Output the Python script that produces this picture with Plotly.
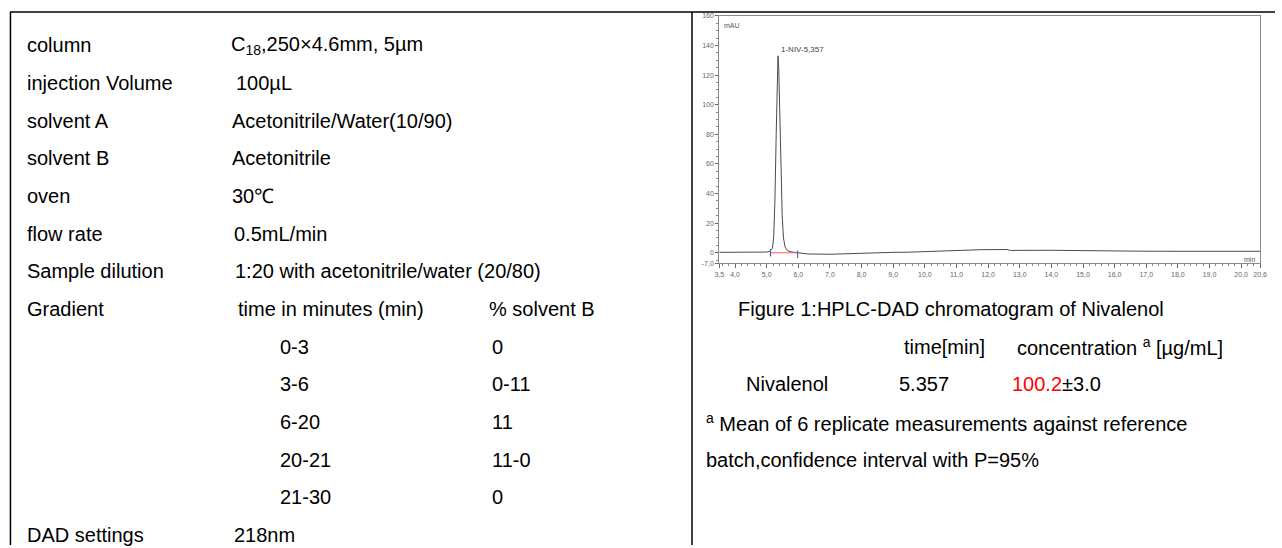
import plotly.graph_objects as go

W, H = 1282, 548

# ---------------- data ----------------
# chromatogram
time_min = [3.5, 4.5, 5.0, 5.1, 5.18, 5.22, 5.26, 5.30, 5.33, 5.357, 5.38, 5.41,
            5.45, 5.49, 5.53, 5.58, 5.65, 5.8, 6.0, 6.3, 7.0, 7.6, 8.2, 8.7, 9.0,
            9.5, 10.0, 10.6, 11.2, 11.8, 12.6, 12.7, 14.0, 15.5, 16.6, 16.7, 18.0, 20.6]
signal_mAU = [0.3, 0.4, 0.5, 1.0, 3.0, 10.0, 35.0, 80.0, 120.0, 133.0, 125.0, 95.0,
              55.0, 25.0, 10.0, 4.0, 1.5, 0.5, 0.0, -0.8, -1.0, -0.6, -0.2, 0.5, 0.3,
              0.4, 0.8, 1.1, 1.6, 2.1, 2.2, 1.6, 1.7, 1.6, 1.6, 1.1, 1.0, 1.0]
peak_label = "1-NIV-5,357"
peak_time = 5.357
peak_height = 133.0
peak_start = 5.12
peak_end = 5.98

x_tickvals = [3.5, 4, 5, 6, 7, 8, 9, 10, 11, 12, 13, 14, 15, 16, 17, 18, 19, 20, 20.6]
x_ticktext = ["3,5", "4,0", "5,0", "6,0", "7,0", "8,0", "9,0", "10,0", "11,0", "12,0",
              "13,0", "14,0", "15,0", "16,0", "17,0", "18,0", "19,0", "20,0", "20,6"]
y_tickvals = [-7, 0, 20, 40, 60, 80, 100, 120, 140, 160]
y_ticktext = ["-7,0", "0", "20", "40", "60", "80", "100", "120", "140", "160"]

# method table
param_labels = ["column", "injection Volume", "solvent A", "solvent B", "oven",
                "flow rate", "Sample dilution", "Gradient"]
param_values = ["C<sub>18</sub>,250×4.6mm, 5µm", "100µL", "Acetonitrile/Water(10/90)",
                "Acetonitrile", "30℃", "0.5mL/min", "1:20 with acetonitrile/water (20/80)",
                "time in minutes (min)"]
gradient_header_B = "% solvent B"
gradient_time = ["0-3", "3-6", "6-20", "20-21", "21-30"]
gradient_B = ["0", "0-11", "11", "11-0", "0"]
dad_label = "DAD settings"
dad_value = "218nm"

# results
fig_caption = "Figure 1:HPLC-DAD chromatogram of Nivalenol"
res_header = ["time[min]", "concentration <sup>a</sup> [µg/mL]"]
res_compound = "Nivalenol"
res_time = "5.357"
res_conc = "100.2"
res_ci = "±3.0"
footnote = ["<sup>a</sup> Mean of 6 replicate measurements against reference",
            "batch,confidence interval with P=95%"]

# ---------------- layout helpers ----------------
FONT = "Liberation Sans, Arial, sans-serif"
FS = 20


def px(x):
    return x / W


def py(y):
    return 1 - y / H


row_y0, row_step = 42, 38.15


def ry(i):
    return row_y0 + i * row_step


fig = go.Figure()

# chromatogram trace
fig.add_trace(go.Scatter(x=time_min, y=signal_mAU, mode="lines",
                         line=dict(color="#4a4a4a", width=1), hoverinfo="skip"))
# integration baseline and delimiters
fig.add_trace(go.Scatter(x=[peak_start, peak_end], y=[0, 0], mode="lines",
                         line=dict(color="#ff5a5a", width=1)))
fig.add_trace(go.Scatter(x=[peak_start, peak_start, None, peak_end, peak_end],
                         y=[-2.5, 2.5, None, -3.5, 1.5], mode="lines",
                         line=dict(color="#3050c0", width=1)))

x0p, x1p = 721, 1267
y0p, y1p = 12, 262.5
fig.update_layout(
    width=W, height=H, autosize=False,
    margin=dict(l=0, r=0, t=0, b=0),
    paper_bgcolor="white", plot_bgcolor="white",
    showlegend=False,
    font=dict(family=FONT, size=FS, color="black"),
    xaxis=dict(domain=[px(x0p), px(x1p)], range=[3.5, 20.6], tickvals=x_tickvals,
               ticktext=x_ticktext, showgrid=False, zeroline=False, showline=True,
               linecolor="#8a8a8a", linewidth=1, mirror=True, ticks="outside",
               ticklen=4, tickcolor="#666", tickfont=dict(size=7, color="#666"),
               minor=dict(dtick=0.2, tick0=3.6, ticklen=2, ticks="outside", tickcolor="#888")),
    yaxis=dict(domain=[py(y1p), py(y0p)], range=[-7, 160], tickvals=y_tickvals,
               ticktext=y_ticktext, showgrid=False, zeroline=False, showline=True,
               linecolor="#8a8a8a", linewidth=1, mirror=True, ticks="outside",
               ticklen=3, tickcolor="#666", tickfont=dict(size=7, color="#666"),
               minor=dict(dtick=5, ticklen=2, ticks="outside", tickcolor="#888")),
)

# chart labels
fig.add_annotation(x=3.6, y=157, text="mAU", showarrow=False, xanchor="left",
                   yanchor="top", font=dict(size=7, color="#555"))
fig.add_annotation(x=20.5, y=-1, text="min", showarrow=False, xanchor="right",
                   yanchor="top", font=dict(size=7, color="#555"))
fig.add_annotation(x=peak_time, y=peak_height, text=peak_label, showarrow=False,
                   xanchor="left", yanchor="bottom", xshift=1,
                   font=dict(size=8, color="#444"))

# page frame lines
line_style = dict(color="black", width=1.5)
fig.add_shape(type="line", xref="paper", yref="paper", x0=px(5), x1=1, y0=py(8), y1=py(8), line=line_style)
fig.add_shape(type="line", xref="paper", yref="paper", x0=px(5.5), x1=px(5.5), y0=py(8), y1=0, line=line_style)
fig.add_shape(type="line", xref="paper", yref="paper", x0=px(693.5), x1=px(693.5), y0=py(8), y1=0, line=line_style)


def txt(x, y, s):
    fig.add_annotation(x=px(x), y=py(y), xref="paper", yref="paper", text=s,
                       showarrow=False, xanchor="left", yanchor="middle",
                       font=dict(family=FONT, size=FS, color="black"))


# left table
value_x = [226, 231, 227, 227, 227, 229, 230, 233]
for i, (lab, val) in enumerate(zip(param_labels, param_values)):
    txt(20, ry(i), lab)
    txt(value_x[i], ry(i), val)
txt(487, ry(7), gradient_header_B)
for j, (t, b) in enumerate(zip(gradient_time, gradient_B)):
    txt(276, ry(8 + j), t)
    txt(490, ry(8 + j), b)
txt(20, ry(13), dad_label)
txt(229, ry(13), dad_value)

# right results
txt(738, ry(7), fig_caption)
txt(905, ry(8), res_header[0])
txt(1020, ry(8), res_header[1])
txt(746, ry(9), res_compound)
txt(900, ry(9), res_time)
txt(1014, ry(9), f"<span style='color:#ff0000'>{res_conc}</span>{res_ci}")
txt(706, ry(10), footnote[0])
txt(706, ry(11), footnote[1])

fig.write_html("out.html", config={"displayModeBar": False},
               post_script="document.body.style.margin='0';document.body.style.overflow='hidden';")
